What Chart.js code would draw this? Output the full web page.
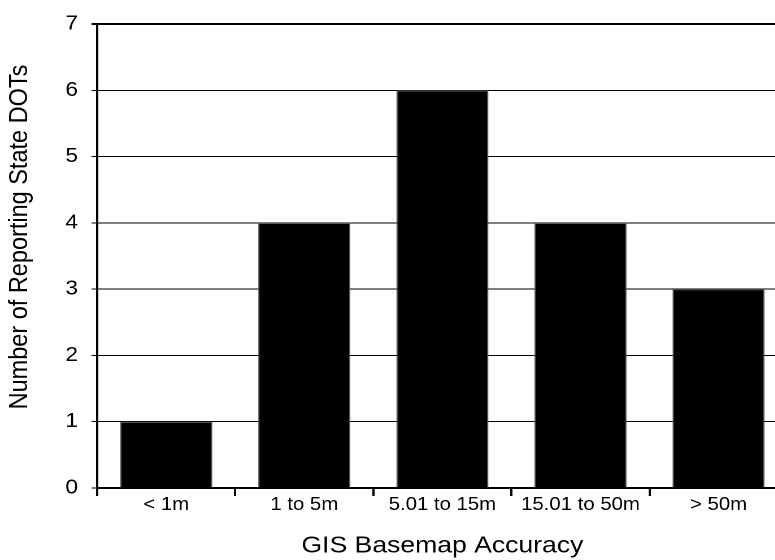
<!DOCTYPE html>
<html>
<head>
<meta charset="utf-8">
<script src="https://cdn.jsdelivr.net/npm/chart.js@4/dist/chart.umd.min.js"></script>
<style>
  html, body { margin: 0; padding: 0; background: #fff; overflow: hidden; }
  #wrap { width: 775px; height: 560px; overflow: hidden; }
  /* the original picture is a little wider than it is tall, so stretch horizontally */
  #chart { display: block; transform: scaleX(1.13); transform-origin: 0 0; }
</style>
</head>
<body>
<div id="wrap">
  <canvas id="chart" width="697" height="560"></canvas>
</div>
<script>
const categories = ['< 1m', '1 to 5m', '5.01 to 15m', '15.01 to 50m', '> 50m'];
const stateCounts = [1, 4, 6, 4, 3];
const yTicks = [0, 1, 2, 3, 4, 5, 6, 7];
const yTitle = 'Number of Reporting State DOTs';
const xTitle = 'GIS Basemap Accuracy';

const font = 'Liberation Sans, Arial, sans-serif';

Chart.defaults.font.family = font;
Chart.defaults.color = '#000';

// y title drawn by hand so it can sit a bit above the plot's middle, as in the original
const yTitlePlugin = {
  id: 'yTitle',
  afterDraw(chart) {
    const c = chart.ctx;
    c.save();
    c.translate(17.7, 237);
    c.rotate(-Math.PI / 2);
    c.font = '23.5px ' + font;
    c.fillStyle = '#000';
    c.textAlign = 'center';
    c.textBaseline = 'middle';
    c.fillText(yTitle, 0, 0);
    c.restore();
  }
};

const ctx = document.getElementById('chart').getContext('2d');
new Chart(ctx, {
  type: 'bar',
  data: {
    labels: categories,
    datasets: [{
      label: yTitle,
      data: stateCounts,
      backgroundColor: '#000',
      borderColor: '#555',
      borderWidth: 1,
      categoryPercentage: 1,
      barPercentage: 0.667
    }]
  },
  options: {
    responsive: false,
    animation: false,
    devicePixelRatio: 2,
    layout: { padding: { top: 23, right: 0, bottom: 0, left: 0 } },
    plugins: {
      legend: { display: false },
      tooltip: { enabled: false }
    },
    scales: {
      x: {
        grid: {
          offset: true,
          drawOnChartArea: false,
          drawTicks: true,
          tickLength: 8,
          color: '#000',
          lineWidth: 2
        },
        border: { display: true, color: '#000', width: 2 },
        ticks: { font: { size: 18 }, padding: -2, maxRotation: 0 },
        title: {
          display: true,
          text: xTitle,
          font: { size: 23.5 },
          padding: { top: 10, bottom: 0 }
        },
        afterFit: (scale) => { scale.height = 72; }
      },
      y: {
        min: 0,
        max: 7,
        afterBuildTicks: (scale) => { scale.ticks = yTicks.map(v => ({ value: v })); },
        grid: {
          color: '#000',
          lineWidth: (c) => (c.tick && c.tick.value === 7 ? 2 : 1),
          tickLength: 5,
          drawTicks: true
        },
        border: { display: true, color: '#000', width: 2 },
        ticks: { font: { size: 20 }, padding: 12 },
        afterFit: (scale) => { scale.width = 86; }
      }
    }
  },
  plugins: [yTitlePlugin]
});
</script>
</body>
</html>
